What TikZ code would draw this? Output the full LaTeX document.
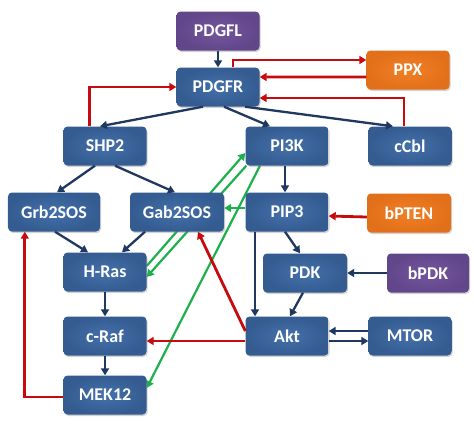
\documentclass[tikz,border=0pt]{standalone}
\usepackage{fontspec}
\setmainfont{Carlito}
\usetikzlibrary{arrows.meta, shadows, backgrounds}

\definecolor{boxblue}{RGB}{68,112,170}
\definecolor{boxblueD}{RGB}{52,92,145}
\definecolor{boxpurple}{RGB}{116,86,158}
\definecolor{boxpurpleD}{RGB}{98,70,138}
\definecolor{boxorange}{RGB}{240,128,38}
\definecolor{boxorangeD}{RGB}{226,112,26}
\definecolor{actarrow}{RGB}{31,56,96}
\definecolor{inharrow}{RGB}{198,10,14}
\definecolor{feedarrow}{RGB}{30,176,76}

\begin{document}
\begin{tikzpicture}[x=1bp, y=-1bp,
    box/.style={rectangle, rounded corners=4bp, minimum width=83bp, minimum height=39bp,
        inner sep=0pt, text=white, font=\fontsize{18}{20}\selectfont\bfseries,
        drop shadow={shadow xshift=1bp, shadow yshift=-1.5bp, opacity=0.35}},
    protein/.style={box, inner color=boxblue, outer color=boxblueD},
    ligand/.style={box, inner color=boxpurple, outer color=boxpurpleD},
    inhibitor/.style={box, inner color=boxorange, outer color=boxorangeD},
    act/.style={draw=actarrow, line width=2.3bp, -{Triangle[length=7bp, width=8bp]}},
    inh/.style={draw=inharrow, line width=2.8bp, -{Triangle[length=7bp, width=8bp]}},
    fb/.style={draw=feedarrow, line width=2.2bp, -{Triangle[length=7bp, width=8bp]}}]

    \useasboundingbox (0,0) rectangle (474,426);

    \node[ligand] (pdgfl) at (218, 31) {PDGFL};
    \node[protein] (pdgfr) at (218, 87) {PDGFR};
    \node[inhibitor] (ppx) at (408, 70) {PPX};
    \node[protein] (shp2) at (105, 146) {SHP2};
    \node[protein] (pi3k) at (287, 146) {PI3K};
    \node[protein] (ccbl) at (410, 146) {cCbl};
    \node[protein, minimum width=92bp] (grb2sos) at (54, 212) {Grb2SOS};
    \node[protein, minimum width=94bp] (gab2sos) at (177, 212) {Gab2SOS};
    \node[protein] (pip3) at (287, 212) {PIP3};
    \node[inhibitor, minimum width=84bp] (bpten) at (409, 213) {bPTEN};
    \node[protein] (hras) at (105, 272) {H-Ras};
    \node[protein, minimum width=84bp] (pdk) at (305, 273) {PDK};
    \node[ligand, minimum width=82bp] (bpdk) at (428, 273) {bPDK};
    \node[protein] (craf) at (105, 336) {c-Raf};
    \node[protein] (akt) at (287, 336) {Akt};
    \node[protein] (mtor) at (410, 336) {MTOR};
    \node[protein] (mek12) at (105, 395) {MEK12};

    \begin{scope}[on background layer]
    % green links pass behind Gab2SOS
    \draw[fb] ([yshift=6bp]hras.east) -- ([yshift=-7bp]pi3k.west);
    \draw[fb] ([xshift=1bp]pi3k.south west) -- ([yshift=-5bp]hras.east);
    \draw[fb] ([xshift=-27bp]pi3k.south) -- ([yshift=7bp]mek12.east);
    \end{scope}
    \draw[fb] ([yshift=4bp]pip3.west) -- ([yshift=4bp]gab2sos.east);

    \draw[act] (pdgfl) -- (pdgfr);
    \draw[act] ([xshift=-15bp]pdgfr.south) -- ([xshift=-5bp]shp2.north);
    \draw[act] ([xshift=6bp]pdgfr.south) -- ([xshift=-17bp]pi3k.north);
    \draw[act] ([xshift=27bp]pdgfr.south) -- ([xshift=-17bp]ccbl.north);
    \draw[act] ([xshift=-10bp]shp2.south) -- ([xshift=3bp]grb2sos.north);
    \draw[act] ([xshift=10bp]shp2.south) -- ([xshift=-2bp]gab2sos.north);
    \draw[act] ([xshift=-2bp]pi3k.south) -- ([xshift=-2bp]pip3.north);
    \draw[act] ([xshift=1bp]grb2sos.south) -- ([xshift=-17bp]hras.north);
    \draw[act] ([xshift=-32bp]gab2sos.south) -- ([xshift=17bp]hras.north);
    \draw[act] (hras) -- (craf);
    \draw[act] (craf) -- (mek12);
    \draw[act] ([xshift=-32bp]pip3.south) -- ([xshift=-32bp]akt.north);
    \draw[act] ([xshift=-2bp]pip3.south) -- ([xshift=-5bp]pdk.north);
    \draw[act] ([xshift=-2bp]pdk.south) -- ([xshift=3bp]akt.north);
    \draw[act] (bpdk) -- (pdk);
    \draw[act] ([yshift=5bp]mtor.west) -- ([yshift=5bp]akt.east);
    \draw[act] ([yshift=-5bp]akt.east) -- ([yshift=-5bp]mtor.west);

    \draw[inh] ([xshift=15bp]pdgfr.north) |- ([yshift=10bp]ppx.west);
    \draw[inh] ([yshift=-7bp]ppx.west) -- ([yshift=10bp]pdgfr.east);
    \draw[inh] ([xshift=-6bp]ccbl.north) |- ([yshift=-11bp]pdgfr.east);
    \draw[inh] ([xshift=26bp]shp2.north west) |- (pdgfr.west);
    \draw[inh] ([yshift=-4bp]bpten.west) -- ([yshift=-4bp]pip3.east);
    \draw[inh] ([yshift=5bp]akt.west) -- ([xshift=21bp]gab2sos.south);
    \draw[inh] ([yshift=-5bp]akt.west) -- ([yshift=-5bp]craf.east);
    \draw[inh] ([yshift=-2bp]mek12.west) -| ([xshift=17bp]grb2sos.south west);
\end{tikzpicture}
\end{document}
